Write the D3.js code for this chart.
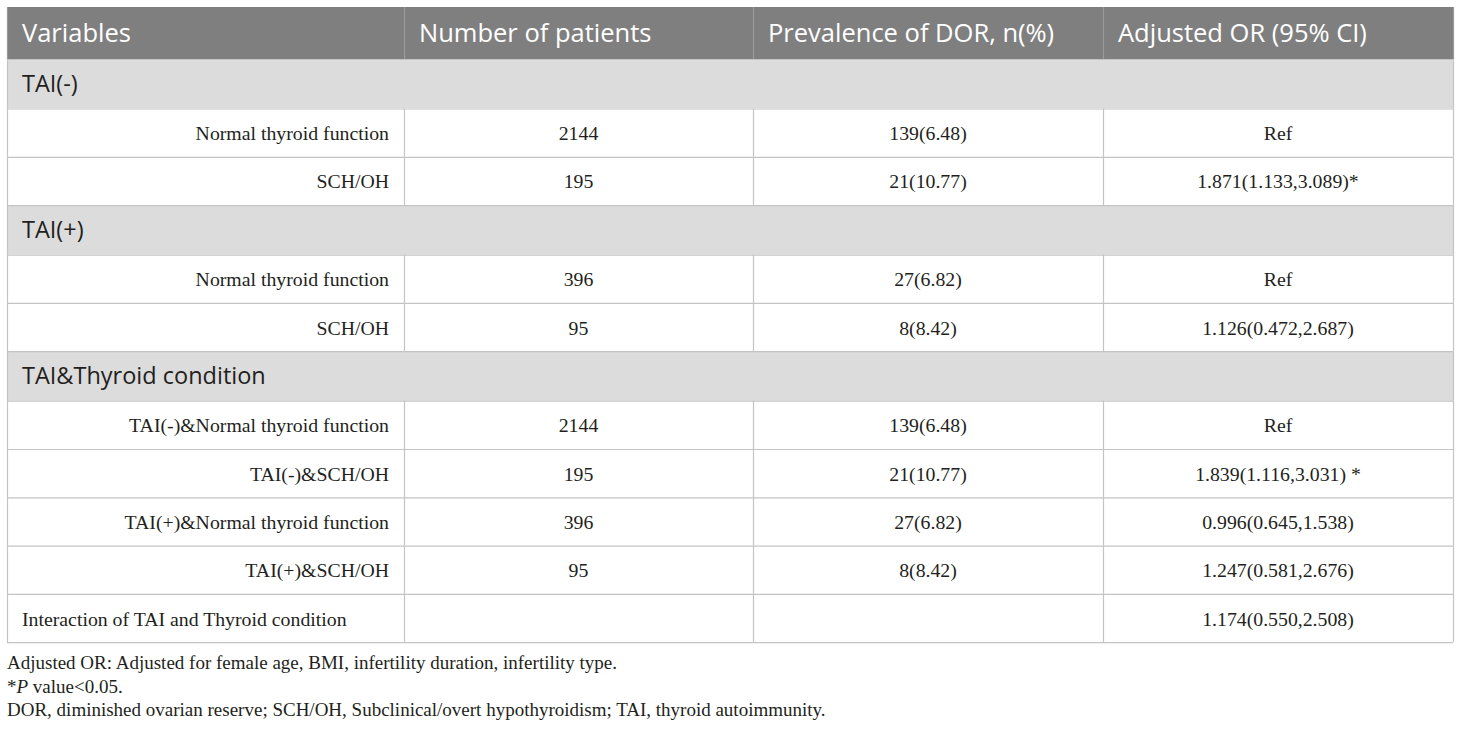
<!DOCTYPE html>
<html>
<head>
<meta charset="utf-8">
<script src="https://cdn.jsdelivr.net/npm/d3@7"></script>
<style>
  body { margin: 0; background: #fff; }
  svg { display: block; }
</style>
</head>
<body>
<div id="chart"></div>
<script>
// table content
const headers = ['Variables', 'Number of patients', 'Prevalence of DOR, n(%)', 'Adjusted OR (95% CI)']

const groups = ['TAI(-)', 'TAI(+)', 'TAI&Thyroid condition']

const rowLabels = [
  ['Normal thyroid function', 'SCH/OH'],
  ['Normal thyroid function', 'SCH/OH'],
  ['TAI(-)&Normal thyroid function', 'TAI(-)&SCH/OH', 'TAI(+)&Normal thyroid function', 'TAI(+)&SCH/OH', 'Interaction of TAI and Thyroid condition']
]
const patients = [
  ['2144', '195'],
  ['396', '95'],
  ['2144', '195', '396', '95', '']
]
const prevalence = [
  ['139(6.48)', '21(10.77)'],
  ['27(6.82)', '8(8.42)'],
  ['139(6.48)', '21(10.77)', '27(6.82)', '8(8.42)', '']
]
const adjustedOR = [
  ['Ref', '1.871(1.133,3.089)*'],
  ['Ref', '1.126(0.472,2.687)'],
  ['Ref', '1.839(1.116,3.031) *', '0.996(0.645,1.538)', '1.247(0.581,2.676)', '1.174(0.550,2.508)']
]

const notes = [
  'Adjusted OR: Adjusted for female age, BMI, infertility duration, infertility type.',
  '*P value<0.05.',
  'DOR, diminished ovarian reserve; SCH/OH, Subclinical/overt hypothyroidism; TAI, thyroid autoimmunity.'
]

// layout
const width = 1460
const height = 730
const tableLeft = 7
const tableTop = 7
const colWidths = [397, 349, 350, 350]
const headerH = 52
const groupH = 49.5
const rowH = 48.3

const sans = "'Open Sans', 'Noto Sans', sans-serif"
const serif = "'Liberation Serif', 'DejaVu Serif', serif"

// flatten rows
const rows = [{ kind: 'header', cells: headers }]
groups.forEach(function(g, gi) {
  rows.push({ kind: 'group', cells: [g] })
  rowLabels[gi].forEach(function(label, ri) {
    rows.push({
      kind: label.startsWith('Interaction') ? 'interaction' : 'data',
      cells: [label, patients[gi][ri], prevalence[gi][ri], adjustedOR[gi][ri]]
    })
  })
})

const rowHeight = { header: headerH, group: groupH, data: rowH, interaction: rowH }
let acc = tableTop
rows.forEach(function(r) { r.y = acc; r.h = rowHeight[r.kind]; acc += r.h })
const tableBottom = acc

const colEdges = [tableLeft].concat(Array.from(d3.cumsum(colWidths), function(c) { return tableLeft + c }))
const tableRight = colEdges[colEdges.length - 1]

const svg = d3.select('#chart')
  .append('svg')
  .attr('width', width)
  .attr('height', height)

// row backgrounds
svg.selectAll('rect.row')
  .data(rows)
  .enter()
  .append('rect')
    .attr('class', 'row')
    .attr('x', tableLeft)
    .attr('y', function(d) { return d.y })
    .attr('width', tableRight - tableLeft)
    .attr('height', function(d) { return d.h })
    .attr('fill', function(d) {
      if (d.kind === 'header') return '#7f7f7f'
      if (d.kind === 'group') return '#dcdcdc'
      return '#ffffff'
    })

// horizontal lines
svg.selectAll('line.h')
  .data(rows.slice(1).map(function(d) { return d.y }).concat([tableBottom]))
  .enter()
  .append('line')
    .attr('class', 'h')
    .attr('x1', tableLeft)
    .attr('x2', tableRight)
    .attr('y1', function(d) { return d + 0.5 })
    .attr('y2', function(d) { return d + 0.5 })
    .attr('stroke', '#c4c4c4')
    .attr('stroke-width', 1.2)

// vertical lines, skipped through group rows
rows.forEach(function(r) {
  const edges = r.kind === 'group' ? [colEdges[0], tableRight] : colEdges
  svg.selectAll(null)
    .data(edges)
    .enter()
    .append('line')
      .attr('x1', function(d) { return d + 0.5 })
      .attr('x2', function(d) { return d + 0.5 })
      .attr('y1', r.y)
      .attr('y2', r.y + r.h)
      .attr('stroke', r.kind === 'header' ? '#9a9a9a' : '#c4c4c4')
      .attr('stroke-width', 1.2)
})

// cell text
const fontSize = { header: 25.5, group: 23.5, data: 19.8, interaction: 19.8 }
const baseShift = { header: 9, group: 8, data: 7.5, interaction: 7.5 }
rows.forEach(function(r) {
  const g = svg.append('g')
  r.cells.forEach(function(txt, ci) {
    if (!txt) return
    let x, anchor
    if (r.kind === 'header' || r.kind === 'group') {
      x = colEdges[ci] + 15; anchor = 'start'
    } else if (ci === 0 && r.kind === 'interaction') {
      x = colEdges[0] + 15; anchor = 'start'
    } else if (ci === 0) {
      x = colEdges[1] - 15; anchor = 'end'
    } else {
      x = (colEdges[ci] + colEdges[ci + 1]) / 2; anchor = 'middle'
    }
    const isSans = r.kind === 'header' || r.kind === 'group'
    g.append('text')
      .attr('x', x)
      .attr('y', r.y + r.h / 2 + baseShift[r.kind])
      .attr('text-anchor', anchor)
      .attr('font-family', isSans ? sans : serif)
      .attr('font-size', fontSize[r.kind])
      .attr('fill', r.kind === 'header' ? '#ffffff' : '#231f20')
      .text(txt)
  })
})

// footnotes
const notesG = svg.append('g')
notes.forEach(function(n, i) {
  const t = notesG.append('text')
    .attr('x', tableLeft)
    .attr('y', 669 + i * 23.5)
    .attr('font-family', serif)
    .attr('font-size', 19)
    .attr('fill', '#231f20')
  if (n.startsWith('*P')) {
    t.append('tspan').text('*')
    t.append('tspan').attr('font-style', 'italic').text('P')
    t.append('tspan').text(n.slice(2))
  } else {
    t.text(n)
  }
})
</script>
</body>
</html>
